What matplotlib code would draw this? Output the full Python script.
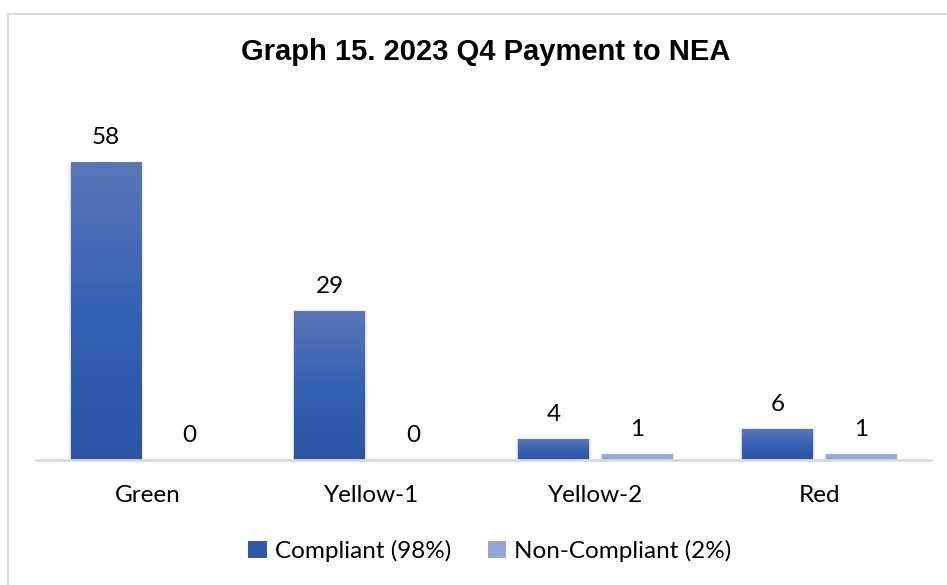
import matplotlib
matplotlib.use("Agg")
import matplotlib.pyplot as plt
from matplotlib.patches import Rectangle, Patch
from matplotlib.colors import LinearSegmentedColormap
import numpy as np

categories = ['Green', 'Yellow-1', 'Yellow-2', 'Red']
compliant = [58, 29, 4, 6]
non_compliant = [0, 0, 1, 1]
series_names = ['Compliant (98%)', 'Non-Compliant (2%)']

W, H = 947, 585
fig = plt.figure(figsize=(W / 100, H / 100), dpi=100)
plt.rcParams['font.family'] = ['Lato', 'DejaVu Sans']

# outer frame like the exported chart
fig.patches.append(Rectangle((8 / W, -0.05), 1.1, (H - 14) / H + 0.05,
                             transform=fig.transFigure, fill=False,
                             edgecolor='#D9D9D9', linewidth=1.5))

ax = fig.add_axes([36 / W, 125 / H, 895 / W, 333 / H])
ax.set_xlim(-0.5, 3.5)
ax.set_ylim(0, 65)

dark = LinearSegmentedColormap.from_list('dark', ['#2B54A4', '#3461B3', '#5A76B6'])
light = LinearSegmentedColormap.from_list('light', ['#8AA2D9', '#9AAEDE'])

x = np.arange(len(categories))
width = 0.317
off = 0.187
grad = np.linspace(0, 1, 100).reshape(-1, 1)

for vals, sign, cmap in [(compliant, -1, dark), (non_compliant, 1, light)]:
    for xi, v in zip(x, vals):
        if v <= 0:
            continue
        x0 = xi + sign * off - width / 2
        # soft shadow
        for k, a in enumerate([0.07, 0.045, 0.025]):
            ax.add_patch(Rectangle((x0 - 0.004 * (k + 1), -0.4), width + 0.008 * (k + 1),
                                   v + 0.3 + 0.15 * (k + 1), facecolor='black', alpha=a,
                                   edgecolor='none', zorder=1))
        ax.imshow(grad, extent=[x0, x0 + width, 0, v], origin='lower',
                  aspect='auto', cmap=cmap, zorder=2)

for xi, v in zip(x, compliant):
    ax.annotate(str(v), (xi - off, v), xytext=(0, 18), textcoords='offset points',
                ha='center', va='center', fontsize=17.5, color='black')
for xi, v in zip(x, non_compliant):
    ax.annotate(str(v), (xi + off, v), xytext=(0, 18), textcoords='offset points',
                ha='center', va='center', fontsize=17.5, color='black')

ax.set_xlim(-0.5, 3.5)
ax.set_ylim(0, 65)
for s in ['top', 'right', 'left']:
    ax.spines[s].set_visible(False)
ax.spines['bottom'].set_color('#D9D9D9')
ax.spines['bottom'].set_linewidth(2)
ax.set_yticks([])
ax.set_xticks(x)
ax.set_xticklabels(categories, fontsize=17.5)
ax.tick_params(axis='x', length=0, pad=18)

fig.text(486 / W, 1 - 52 / H, 'Graph 15. 2023 Q4 Payment to NEA',
         ha='center', va='center', fontsize=21, fontweight='bold',
         family=['Liberation Sans', 'DejaVu Sans'])

handles = [Patch(facecolor='#2F5AAA'), Patch(facecolor='#8FA6DB')]
fig.legend(handles, series_names, loc='center', bbox_to_anchor=(490 / W, 34 / H),
           ncol=2, frameon=False, fontsize=17.5, handlelength=0.75, handleheight=0.75,
           handletextpad=0.35, columnspacing=1.5)

fig.savefig('out.png', dpi=100)
